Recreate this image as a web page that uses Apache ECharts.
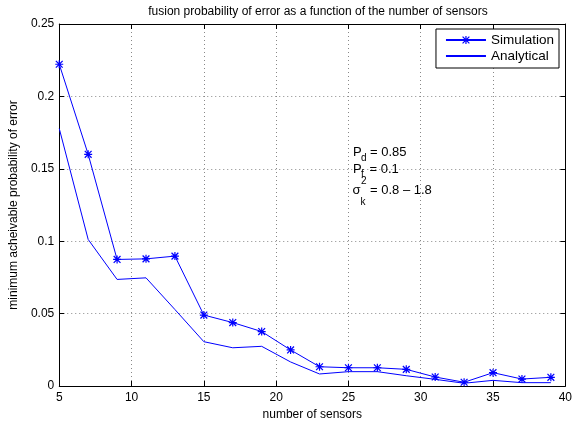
<!DOCTYPE html>
<html>
	<head>
		<meta charset="utf-8">
		<title>fusion probability of error</title>
		<script src="https://cdn.jsdelivr.net/npm/echarts@6/dist/echarts.min.js"></script>
		<style>
			html, body { margin: 0; padding: 0; background: #fff; }
		</style>
	</head>
	<body>
		<div id="box" style="width: 575px;height: 427px;"></div>
		<script>
			// number of sensors
			var sensors = [5, 7, 9, 11, 13, 15, 17, 19, 21, 23, 25, 27, 29, 31, 33, 35, 37, 39]
			var simulation = [0.2222, 0.160, 0.0874, 0.0878, 0.0897, 0.049, 0.0438, 0.0376, 0.0249, 0.0133,
				0.0126, 0.0126, 0.0115, 0.0062, 0.0026, 0.0092, 0.0048, 0.006]
			var analytical = [0.1778, 0.1012, 0.0736, 0.0747, 0.0528, 0.0306, 0.0264, 0.0274, 0.0166, 0.0083,
				0.0099, 0.0099, 0.0071, 0.0046, 0.0019, 0.0039, 0.0023, 0.0023]
			var xTicks = [5, 10, 15, 20, 25, 30, 35, 40]
			var yTicks = [0, 0.05, 0.1, 0.15, 0.2, 0.25]

			var font = '"Liberation Sans", Arial, Helvetica, sans-serif'
			var blue = '#0000ff'
			// asterisk marker, like matlab '*'
			var star = 'path://M8.5,0 L11.5,0 L11.5,20 L8.5,20 Z M0,8.5 L20,8.5 L20,11.5 L0,11.5 Z ' +
				'M2.6,0.4 L19.6,17.4 L17.4,19.6 L0.4,2.6 Z M17.4,0.4 L19.6,2.6 L2.6,19.6 L0.4,17.4 Z'

			function pairs(xs, ys) {
				return xs.map(function(x, i) { return [x, ys[i]] })
			}

			var gridLine = { show: true, lineStyle: { color: '#888', type: [1, 3], width: 1 } }
			var tick = { show: true, inside: true, length: 5, lineStyle: { color: '#000' } }
			var line = { show: true, onZero: false, lineStyle: { color: '#000', width: 1 } }

			function txt(x, y, s, size) {
				return { type: 'text', left: x, top: y, z: 10, style: { text: s, font: size + 'px ' + font, fill: '#000' } }
			}

			var mCharts = echarts.init(document.querySelector('#box'))
			var option = {
				animation: false,
				backgroundColor: '#fff',
				textStyle: { fontFamily: font },
				title: {
					text: 'fusion probability of error as a function of the number of sensors',
					left: 313,
					textAlign: 'center',
					top: 1,
					textStyle: { fontSize: 12, fontWeight: 'normal', color: '#000', fontFamily: font }
				},
				grid: { left: 58, right: 7, top: 24, bottom: 41, show: false },
				legend: {
					orient: 'vertical',
					right: 16,
					top: 29,
					itemWidth: 40,
					itemHeight: 10,
					itemGap: 2,
					padding: [4, 5, 5, 9],
					borderColor: '#000',
					borderWidth: 1,
					backgroundColor: '#fff',
					textStyle: { fontSize: 13.5, color: '#000', fontFamily: font },
					data: [
						{ name: 'Simulation' },
						{ name: 'Analytical', itemStyle: { opacity: 0 } }
					]
				},
				xAxis: [{
					type: 'value',
					min: 5,
					max: 40,
					interval: 5,
					name: 'number of sensors',
					nameLocation: 'middle',
					nameGap: 21,
					nameTextStyle: { fontSize: 12, color: '#000', fontFamily: font },
					axisLine: line,
					axisTick: tick,
					splitLine: gridLine,
					axisLabel: { fontSize: 12, color: '#000', margin: 6, fontFamily: font }
				}, {
					type: 'value',
					position: 'top',
					min: 5,
					max: 40,
					interval: 5,
					axisLine: line,
					axisTick: tick,
					splitLine: { show: false },
					axisLabel: { show: false }
				}],
				yAxis: [{
					type: 'value',
					min: 0,
					max: 0.25,
					interval: 0.05,
					name: 'minimum acheivable probability of error',
					nameLocation: 'middle',
					nameGap: 32,
					nameTextStyle: { fontSize: 12, color: '#000', fontFamily: font },
					axisLine: line,
					axisTick: tick,
					splitLine: gridLine,
					axisLabel: {
						fontSize: 12, color: '#000', margin: 5, fontFamily: font,
						formatter: function(v) { return String(+v.toFixed(2)) }
					}
				}, {
					type: 'value',
					position: 'right',
					min: 0,
					max: 0.25,
					interval: 0.05,
					axisLine: line,
					axisTick: tick,
					splitLine: { show: false },
					axisLabel: { show: false }
				}],
				series: [{
					name: 'Simulation',
					type: 'line',
					data: pairs(sensors, simulation),
					symbol: star,
					symbolSize: 8,
					showAllSymbol: true,
					itemStyle: { color: blue },
					lineStyle: { color: blue, width: 1 },
					z: 3
				}, {
					name: 'Analytical',
					type: 'line',
					data: pairs(sensors, analytical),
					symbol: 'none',
					itemStyle: { color: blue },
					lineStyle: { color: blue, width: 1 },
					z: 2
				}],
				graphic: [
					txt(353, 145.5, 'P', 13),
					txt(361, 153, 'd', 10),
					txt(370, 145.5, '= 0.85', 13),
					txt(353, 163, 'P', 13),
					txt(361, 169, 'f', 10),
					txt(369.5, 163, '= 0.1', 13),
					txt(352.5, 184, 'σ', 13),
					txt(361, 176.5, '2', 10),
					txt(360.5, 197.5, 'k', 10),
					txt(370, 184, '= 0.8 – 1.8', 13)
				]
			}
			mCharts.setOption(option)
		</script>
	</body>
</html>
